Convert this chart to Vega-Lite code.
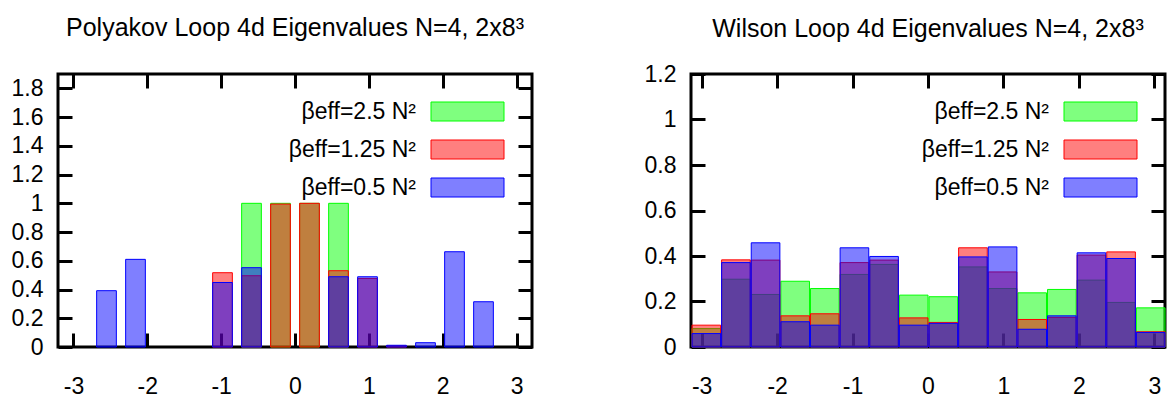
{
  "$schema": "https://vega.github.io/schema/vega-lite/v6.json",
  "background": "white",
  "padding": {"left": 9, "top": 14, "right": 0, "bottom": 0},
  "config": {
    "font": "Liberation Sans",
    "view": {"stroke": "black", "strokeWidth": 3},
    "axis": {
      "domain": false,
      "grid": false,
      "title": null,
      "tickColor": "black",
      "tickWidth": 3,
      "tickSize": -14,
      "labelFont": "Liberation Sans",
      "labelFontSize": 23,
      "labelColor": "black"
    },
    "legend": {
      "orient": "top-right",
      "offset": 26,
      "padding": 0,
      "title": null,
      "symbolType": "M-3.65,-0.95H3.65V0.95H-3.65Z",
      "symbolSize": 400,
      "symbolStrokeWidth": 1,
      "labelOffset": -63,
      "labelAlign": "right",
      "labelBaseline": "middle",
      "labelFont": "Liberation Sans",
      "labelFontSize": 23,
      "labelColor": "black",
      "labelLimit": 300,
      "rowPadding": 14
    },
    "title": {
      "font": "Liberation Sans",
      "fontSize": 25,
      "fontWeight": "normal",
      "color": "black",
      "anchor": "middle",
      "baseline": "alphabetic"
    },
    "concat": {"spacing": 107}
  },
  "resolve": {
    "scale": {"fill": "independent", "stroke": "independent"},
    "legend": {"fill": "independent", "stroke": "independent"}
  },
  "datasets": {
    "polyakov": [
      {"beta": "βeff=2.5 N²", "phase": -0.5890, "value": 1.0},
      {"beta": "βeff=2.5 N²", "phase": -0.1963, "value": 1.0},
      {"beta": "βeff=2.5 N²", "phase": 0.1963, "value": 1.0},
      {"beta": "βeff=2.5 N²", "phase": 0.5890, "value": 1.0},
      {"beta": "βeff=1.25 N²", "phase": -0.9817, "value": 0.517},
      {"beta": "βeff=1.25 N²", "phase": -0.5890, "value": 0.496},
      {"beta": "βeff=1.25 N²", "phase": -0.1963, "value": 0.995},
      {"beta": "βeff=1.25 N²", "phase": 0.1963, "value": 1.0},
      {"beta": "βeff=1.25 N²", "phase": 0.5890, "value": 0.531},
      {"beta": "βeff=1.25 N²", "phase": 0.9817, "value": 0.477},
      {"beta": "βeff=1.25 N²", "phase": 1.3744, "value": 0.008},
      {"beta": "βeff=0.5 N²", "phase": -2.5525, "value": 0.392},
      {"beta": "βeff=0.5 N²", "phase": -2.1598, "value": 0.61},
      {"beta": "βeff=0.5 N²", "phase": -0.9817, "value": 0.449},
      {"beta": "βeff=0.5 N²", "phase": -0.5890, "value": 0.552},
      {"beta": "βeff=0.5 N²", "phase": 0.5890, "value": 0.489},
      {"beta": "βeff=0.5 N²", "phase": 0.9817, "value": 0.489},
      {"beta": "βeff=0.5 N²", "phase": 1.3744, "value": 0.012},
      {"beta": "βeff=0.5 N²", "phase": 1.7671, "value": 0.03},
      {"beta": "βeff=0.5 N²", "phase": 2.1598, "value": 0.663},
      {"beta": "βeff=0.5 N²", "phase": 2.5525, "value": 0.315}
    ],
    "wilson": [
      {"beta": "βeff=2.5 N²", "lo": -3.1416, "hi": -2.7489, "value": 0.081},
      {"beta": "βeff=2.5 N²", "lo": -2.7489, "hi": -2.3562, "value": 0.298},
      {"beta": "βeff=2.5 N²", "lo": -2.3562, "hi": -1.9635, "value": 0.231},
      {"beta": "βeff=2.5 N²", "lo": -1.9635, "hi": -1.5708, "value": 0.289},
      {"beta": "βeff=2.5 N²", "lo": -1.5708, "hi": -1.1781, "value": 0.257},
      {"beta": "βeff=2.5 N²", "lo": -1.1781, "hi": -0.7854, "value": 0.319},
      {"beta": "βeff=2.5 N²", "lo": -0.7854, "hi": -0.3927, "value": 0.363},
      {"beta": "βeff=2.5 N²", "lo": -0.3927, "hi": 0.0, "value": 0.228},
      {"beta": "βeff=2.5 N²", "lo": 0.0, "hi": 0.3927, "value": 0.221},
      {"beta": "βeff=2.5 N²", "lo": 0.3927, "hi": 0.7854, "value": 0.352},
      {"beta": "βeff=2.5 N²", "lo": 0.7854, "hi": 1.1781, "value": 0.257},
      {"beta": "βeff=2.5 N²", "lo": 1.1781, "hi": 1.5708, "value": 0.238},
      {"beta": "βeff=2.5 N²", "lo": 1.5708, "hi": 1.9635, "value": 0.253},
      {"beta": "βeff=2.5 N²", "lo": 1.9635, "hi": 2.3562, "value": 0.294},
      {"beta": "βeff=2.5 N²", "lo": 2.3562, "hi": 2.7489, "value": 0.196},
      {"beta": "βeff=2.5 N²", "lo": 2.7489, "hi": 3.1416, "value": 0.172},
      {"beta": "βeff=1.25 N²", "lo": -3.1416, "hi": -2.7489, "value": 0.096},
      {"beta": "βeff=1.25 N²", "lo": -2.7489, "hi": -2.3562, "value": 0.383},
      {"beta": "βeff=1.25 N²", "lo": -2.3562, "hi": -1.9635, "value": 0.382},
      {"beta": "βeff=1.25 N²", "lo": -1.9635, "hi": -1.5708, "value": 0.137},
      {"beta": "βeff=1.25 N²", "lo": -1.5708, "hi": -1.1781, "value": 0.146},
      {"beta": "βeff=1.25 N²", "lo": -1.1781, "hi": -0.7854, "value": 0.371},
      {"beta": "βeff=1.25 N²", "lo": -0.7854, "hi": -0.3927, "value": 0.382},
      {"beta": "βeff=1.25 N²", "lo": -0.3927, "hi": 0.0, "value": 0.128},
      {"beta": "βeff=1.25 N²", "lo": 0.0, "hi": 0.3927, "value": 0.108},
      {"beta": "βeff=1.25 N²", "lo": 0.3927, "hi": 0.7854, "value": 0.436},
      {"beta": "βeff=1.25 N²", "lo": 0.7854, "hi": 1.1781, "value": 0.33},
      {"beta": "βeff=1.25 N²", "lo": 1.1781, "hi": 1.5708, "value": 0.121},
      {"beta": "βeff=1.25 N²", "lo": 1.5708, "hi": 1.9635, "value": 0.13},
      {"beta": "βeff=1.25 N²", "lo": 1.9635, "hi": 2.3562, "value": 0.404},
      {"beta": "βeff=1.25 N²", "lo": 2.3562, "hi": 2.7489, "value": 0.418},
      {"beta": "βeff=1.25 N²", "lo": 2.7489, "hi": 3.1416, "value": 0.067},
      {"beta": "βeff=0.5 N²", "lo": -3.1416, "hi": -2.7489, "value": 0.059},
      {"beta": "βeff=0.5 N²", "lo": -2.7489, "hi": -2.3562, "value": 0.371},
      {"beta": "βeff=0.5 N²", "lo": -2.3562, "hi": -1.9635, "value": 0.458},
      {"beta": "βeff=0.5 N²", "lo": -1.9635, "hi": -1.5708, "value": 0.111},
      {"beta": "βeff=0.5 N²", "lo": -1.5708, "hi": -1.1781, "value": 0.096},
      {"beta": "βeff=0.5 N²", "lo": -1.1781, "hi": -0.7854, "value": 0.436},
      {"beta": "βeff=0.5 N²", "lo": -0.7854, "hi": -0.3927, "value": 0.398},
      {"beta": "βeff=0.5 N²", "lo": -0.3927, "hi": 0.0, "value": 0.096},
      {"beta": "βeff=0.5 N²", "lo": 0.0, "hi": 0.3927, "value": 0.104},
      {"beta": "βeff=0.5 N²", "lo": 0.3927, "hi": 0.7854, "value": 0.396},
      {"beta": "βeff=0.5 N²", "lo": 0.7854, "hi": 1.1781, "value": 0.44},
      {"beta": "βeff=0.5 N²", "lo": 1.1781, "hi": 1.5708, "value": 0.078},
      {"beta": "βeff=0.5 N²", "lo": 1.5708, "hi": 1.9635, "value": 0.137},
      {"beta": "βeff=0.5 N²", "lo": 1.9635, "hi": 2.3562, "value": 0.414},
      {"beta": "βeff=0.5 N²", "lo": 2.3562, "hi": 2.7489, "value": 0.389},
      {"beta": "βeff=0.5 N²", "lo": 2.7489, "hi": 3.1416, "value": 0.064}
    ]
  },
  "hconcat": [
    {
      "title": {"text": "Polyakov Loop 4d Eigenvalues N=4, 2x8³", "offset": 32},
      "width": 474,
      "height": 273,
      "data": {"name": "polyakov"},
      "layer": [
        {
          "mark": {"type": "bar", "width": 19.7, "fillOpacity": 0.5, "strokeOpacity": 1, "strokeWidth": 1},
          "encoding": {
            "x": {
              "field": "phase", "type": "quantitative",
              "scale": {"domain": [-3.14159, 3.14159], "nice": false, "zero": false},
              "axis": {"orient": "bottom", "values": [-3, -2, -1, 0, 1, 2, 3], "labelExpr": "'' + datum.value", "labelPadding": 42}
            },
            "y": {
              "field": "value", "type": "quantitative", "stack": null,
              "scale": {"domain": [0, 1.9], "nice": false},
              "axis": {"orient": "left", "values": [0, 0.2, 0.4, 0.6, 0.8, 1, 1.2, 1.4, 1.6, 1.8], "labelExpr": "'' + datum.value", "labelPadding": 29}
            },
            "fill": {
              "field": "beta", "type": "nominal",
              "scale": {"domain": ["βeff=2.5 N²", "βeff=1.25 N²", "βeff=0.5 N²"], "range": ["#00ff00", "#ff0000", "#0000ff"]},
              "legend": {"encode": {"symbols": {"update": {"fillOpacity": {"value": 0.5}, "strokeOpacity": {"value": 1}}}}}
            },
            "stroke": {
              "field": "beta", "type": "nominal",
              "scale": {"domain": ["βeff=2.5 N²", "βeff=1.25 N²", "βeff=0.5 N²"], "range": ["#00ff00", "#ff0000", "#0000ff"]}
            }
          }
        },
        {
          "mark": {"type": "point", "opacity": 0},
          "encoding": {
            "x": {
              "field": "phase", "type": "quantitative",
              "scale": {"domain": [-3.14159, 3.14159], "nice": false, "zero": false},
              "axis": {"orient": "top", "values": [-3, -2, -1, 0, 1, 2, 3], "labels": false}
            },
            "y": {
              "field": "value", "type": "quantitative",
              "scale": {"domain": [0, 1.9], "nice": false},
              "axis": {"orient": "right", "values": [0, 0.2, 0.4, 0.6, 0.8, 1, 1.2, 1.4, 1.6, 1.8], "labels": false}
            }
          }
        }
      ],
      "resolve": {"axis": {"x": "independent", "y": "independent"}}
    },
    {
      "title": {"text": "Wilson Loop 4d Eigenvalues N=4, 2x8³", "offset": 21},
      "width": 474,
      "height": 273,
      "data": {"name": "wilson"},
      "layer": [
        {
          "mark": {"type": "bar", "fillOpacity": 0.5, "strokeOpacity": 1, "strokeWidth": 1},
          "encoding": {
            "x": {
              "field": "lo", "type": "quantitative", "bin": "binned",
              "scale": {"domain": [-3.14159, 3.14159], "nice": false, "zero": false},
              "axis": {"orient": "bottom", "values": [-3, -2, -1, 0, 1, 2, 3], "labelExpr": "'' + datum.value", "labelPadding": 42}
            },
            "x2": {"field": "hi"},
            "y": {
              "field": "value", "type": "quantitative", "stack": null,
              "scale": {"domain": [0, 1.2], "nice": false},
              "axis": {"orient": "left", "values": [0, 0.2, 0.4, 0.6, 0.8, 1, 1.2], "labelExpr": "'' + datum.value", "labelPadding": 29}
            },
            "fill": {
              "field": "beta", "type": "nominal",
              "scale": {"domain": ["βeff=2.5 N²", "βeff=1.25 N²", "βeff=0.5 N²"], "range": ["#00ff00", "#ff0000", "#0000ff"]},
              "legend": {"encode": {"symbols": {"update": {"fillOpacity": {"value": 0.5}, "strokeOpacity": {"value": 1}}}}}
            },
            "stroke": {
              "field": "beta", "type": "nominal",
              "scale": {"domain": ["βeff=2.5 N²", "βeff=1.25 N²", "βeff=0.5 N²"], "range": ["#00ff00", "#ff0000", "#0000ff"]}
            }
          }
        },
        {
          "mark": {"type": "point", "opacity": 0},
          "encoding": {
            "x": {
              "field": "lo", "type": "quantitative",
              "scale": {"domain": [-3.14159, 3.14159], "nice": false, "zero": false},
              "axis": {"orient": "top", "values": [-3, -2, -1, 0, 1, 2, 3], "labels": false}
            },
            "y": {
              "field": "value", "type": "quantitative",
              "scale": {"domain": [0, 1.2], "nice": false},
              "axis": {"orient": "right", "values": [0, 0.2, 0.4, 0.6, 0.8, 1, 1.2], "labels": false}
            }
          }
        }
      ],
      "resolve": {"axis": {"x": "independent", "y": "independent"}}
    }
  ]
}
